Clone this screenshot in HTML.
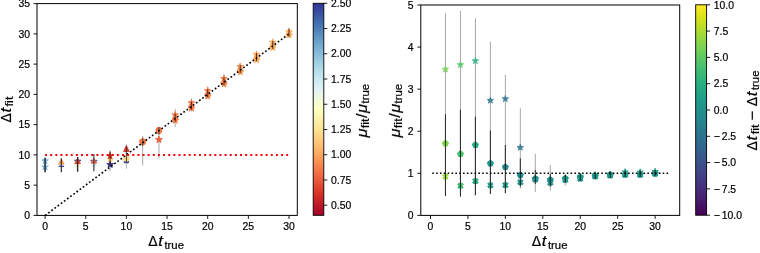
<!DOCTYPE html><html><head><meta charset="utf-8"><style>html,body{margin:0;padding:0;background:#fff;}svg{display:block;will-change:transform;}</style></head><body><svg width="760" height="253" viewBox="0 0 760 253">
<rect width="760" height="253" fill="#fff"/>
<defs>
<linearGradient id="g1" x1="0" y1="1" x2="0" y2="0">
<stop offset="0.0000" stop-color="#a50026"/>
<stop offset="0.0312" stop-color="#b50f26"/>
<stop offset="0.0625" stop-color="#c41e27"/>
<stop offset="0.0938" stop-color="#d42d27"/>
<stop offset="0.1250" stop-color="#de402e"/>
<stop offset="0.1562" stop-color="#e75337"/>
<stop offset="0.1875" stop-color="#f16640"/>
<stop offset="0.2188" stop-color="#f67a49"/>
<stop offset="0.2500" stop-color="#f98e52"/>
<stop offset="0.2812" stop-color="#fba35c"/>
<stop offset="0.3125" stop-color="#fdb567"/>
<stop offset="0.3438" stop-color="#fdc576"/>
<stop offset="0.3750" stop-color="#fed485"/>
<stop offset="0.4062" stop-color="#fee294"/>
<stop offset="0.4375" stop-color="#feeca2"/>
<stop offset="0.4688" stop-color="#fff6b1"/>
<stop offset="0.5000" stop-color="#feffc0"/>
<stop offset="0.5312" stop-color="#f5fbd2"/>
<stop offset="0.5625" stop-color="#ebf7e4"/>
<stop offset="0.5938" stop-color="#e1f3f6"/>
<stop offset="0.6250" stop-color="#d1ecf4"/>
<stop offset="0.6562" stop-color="#c1e4ef"/>
<stop offset="0.6875" stop-color="#b0dcea"/>
<stop offset="0.7188" stop-color="#9fd0e4"/>
<stop offset="0.7500" stop-color="#8ec2dc"/>
<stop offset="0.7812" stop-color="#7db4d5"/>
<stop offset="0.8125" stop-color="#6da4cc"/>
<stop offset="0.8438" stop-color="#5e93c3"/>
<stop offset="0.8750" stop-color="#4f81ba"/>
<stop offset="0.9062" stop-color="#436fb1"/>
<stop offset="0.9375" stop-color="#3d5ba7"/>
<stop offset="0.9688" stop-color="#36479e"/>
<stop offset="1.0000" stop-color="#313695"/>
</linearGradient>
<linearGradient id="g2" x1="0" y1="1" x2="0" y2="0">
<stop offset="0.0000" stop-color="#440154"/>
<stop offset="0.0312" stop-color="#470d60"/>
<stop offset="0.0625" stop-color="#48186a"/>
<stop offset="0.0938" stop-color="#482374"/>
<stop offset="0.1250" stop-color="#472d7b"/>
<stop offset="0.1562" stop-color="#453781"/>
<stop offset="0.1875" stop-color="#424086"/>
<stop offset="0.2188" stop-color="#3e4989"/>
<stop offset="0.2500" stop-color="#3b528b"/>
<stop offset="0.2812" stop-color="#375b8d"/>
<stop offset="0.3125" stop-color="#33638d"/>
<stop offset="0.3438" stop-color="#2f6b8e"/>
<stop offset="0.3750" stop-color="#2c728e"/>
<stop offset="0.4062" stop-color="#297a8e"/>
<stop offset="0.4375" stop-color="#26828e"/>
<stop offset="0.4688" stop-color="#23898e"/>
<stop offset="0.5000" stop-color="#21918c"/>
<stop offset="0.5312" stop-color="#1f988b"/>
<stop offset="0.5625" stop-color="#1fa088"/>
<stop offset="0.5938" stop-color="#22a785"/>
<stop offset="0.6250" stop-color="#28ae80"/>
<stop offset="0.6562" stop-color="#32b67a"/>
<stop offset="0.6875" stop-color="#3fbc73"/>
<stop offset="0.7188" stop-color="#4ec36b"/>
<stop offset="0.7500" stop-color="#5ec962"/>
<stop offset="0.7812" stop-color="#70cf57"/>
<stop offset="0.8125" stop-color="#84d44b"/>
<stop offset="0.8438" stop-color="#98d83e"/>
<stop offset="0.8750" stop-color="#addc30"/>
<stop offset="0.9062" stop-color="#c2df23"/>
<stop offset="0.9375" stop-color="#d8e219"/>
<stop offset="0.9688" stop-color="#ece51b"/>
<stop offset="1.0000" stop-color="#fde725"/>
</linearGradient>
</defs>
<polygon points="45.10,157.40 45.89,159.82 48.43,159.82 46.37,161.31 47.16,163.73 45.10,162.24 43.04,163.73 43.83,161.31 41.77,159.82 44.31,159.82" fill="#83b9d8" stroke="#83b9d8" stroke-width="1.0" stroke-linejoin="round"/>
<polygon points="45.10,163.50 45.89,165.92 48.43,165.92 46.37,167.41 47.16,169.83 45.10,168.34 43.04,169.83 43.83,167.41 41.77,165.92 44.31,165.92" fill="#83b9d8" stroke="#83b9d8" stroke-width="1.0" stroke-linejoin="round"/>
<line x1="45.10" y1="157.90" x2="45.10" y2="172.20" stroke="#2e3d58" stroke-width="1.7" stroke-opacity="1.0"/>
<line x1="58.66" y1="166.30" x2="64.06" y2="166.30" stroke="#3d4fa5" stroke-width="1.4"/>
<polygon points="61.36,158.80 58.56,164.10 64.16,164.10" fill="#fb9d59" stroke="#fb9d59" stroke-width="1.0" stroke-linejoin="round"/>
<line x1="61.36" y1="158.40" x2="61.36" y2="172.20" stroke="#3a3a3a" stroke-width="1.3" stroke-opacity="1.0"/>
<circle cx="77.62" cy="164.60" r="2.10" fill="#fdf5c8" stroke="#fdf5c8" stroke-width="1.0" stroke-linejoin="round"/>
<line x1="74.22" y1="160.40" x2="81.02" y2="160.40" stroke="#3d4fa5" stroke-width="1.4"/>
<polygon points="77.62,158.20 74.82,163.50 80.42,163.50" fill="#e34933" stroke="#e34933" stroke-width="1.0" stroke-linejoin="round"/>
<line x1="77.62" y1="157.00" x2="77.62" y2="171.70" stroke="#2a2a2a" stroke-width="1.4" stroke-opacity="1.0"/>
<circle cx="93.88" cy="164.60" r="2.10" fill="#dff0f5" stroke="#dff0f5" stroke-width="1.0" stroke-linejoin="round"/>
<line x1="90.48" y1="160.50" x2="97.28" y2="160.50" stroke="#3d4fa5" stroke-width="1.4"/>
<polygon points="93.88,158.20 91.08,163.10 96.68,163.10" fill="#eb5a3a" stroke="#eb5a3a" stroke-width="1.0" stroke-linejoin="round"/>
<line x1="93.88" y1="154.00" x2="93.88" y2="171.20" stroke="#4a4a4a" stroke-width="1.3" stroke-opacity="1.0"/>
<line x1="110.14" y1="150.30" x2="110.14" y2="171.10" stroke="#b0b0b0" stroke-width="1.1" stroke-opacity="1.0"/>
<circle cx="110.14" cy="159.60" r="2.50" fill="#fee398" stroke="#fee398" stroke-width="1.0" stroke-linejoin="round"/>
<polygon points="110.14,152.70 110.88,154.98 113.28,154.98 111.34,156.39 112.08,158.67 110.14,157.26 108.20,158.67 108.94,156.39 107.00,154.98 109.40,154.98" fill="#d83128" stroke="#d83128" stroke-width="1.0" stroke-linejoin="round"/>
<polygon points="110.14,161.10 110.93,163.52 113.47,163.52 111.41,165.01 112.20,167.43 110.14,165.94 108.08,167.43 108.87,165.01 106.81,163.52 109.35,163.52" fill="#313695" stroke="#313695" stroke-width="1.0" stroke-linejoin="round"/>
<line x1="110.14" y1="151.50" x2="110.14" y2="166.00" stroke="#5a2a1a" stroke-width="1.1" stroke-opacity="1.0"/>
<line x1="126.40" y1="144.20" x2="126.40" y2="168.70" stroke="#b8b8b8" stroke-width="1.1" stroke-opacity="1.0"/>
<polygon points="125.10,158.00 126.40,159.30 127.70,158.00 129.00,159.30 127.70,160.60 129.00,161.90 127.70,163.20 126.40,161.90 125.10,163.20 123.80,161.90 125.10,160.60 123.80,159.30" fill="#3a4aa0" stroke="#3a4aa0" stroke-width="1.0" stroke-linejoin="round"/>
<circle cx="126.40" cy="158.40" r="2.90" fill="#feda8a" stroke="#feda8a" stroke-width="1.0" stroke-linejoin="round"/>
<polygon points="126.40,145.60 123.60,151.50 129.20,151.50" fill="#dd3d2d" stroke="#dd3d2d" stroke-width="1.0" stroke-linejoin="round"/>
<line x1="126.40" y1="146.50" x2="126.40" y2="163.00" stroke="#333" stroke-width="0.9" stroke-opacity="1.0"/>
<line x1="142.66" y1="135.90" x2="142.66" y2="165.40" stroke="#b0b0b0" stroke-width="1.1" stroke-opacity="1.0"/>
<polygon points="142.66,137.70 143.40,139.98 145.80,139.98 143.86,141.39 144.60,143.67 142.66,142.26 140.72,143.67 141.46,141.39 139.52,139.98 141.92,139.98" fill="#e34933" stroke="#e34933" stroke-width="1.0" stroke-linejoin="round"/>
<circle cx="142.66" cy="142.00" r="3.00" fill="#f67a49" stroke="#f67a49" stroke-width="1.0" stroke-linejoin="round"/>
<line x1="142.66" y1="138.50" x2="142.66" y2="146.00" stroke="#333" stroke-width="0.9" stroke-opacity="1.0"/>
<line x1="158.92" y1="126.90" x2="158.92" y2="158.50" stroke="#b0b0b0" stroke-width="1.1" stroke-opacity="1.0"/>
<polygon points="158.92,136.20 159.71,138.62 162.25,138.62 160.19,140.11 160.98,142.53 158.92,141.04 156.86,142.53 157.65,140.11 155.59,138.62 158.13,138.62" fill="#ee613e" stroke="#ee613e" stroke-width="1.0" stroke-linejoin="round"/>
<circle cx="158.92" cy="130.20" r="2.90" fill="#f16640" stroke="#f16640" stroke-width="1.0" stroke-linejoin="round"/>
<circle cx="158.92" cy="130.90" r="2.70" fill="#f67a49" stroke="#f67a49" stroke-width="1.0" stroke-linejoin="round"/>
<line x1="158.92" y1="127.50" x2="158.92" y2="134.50" stroke="#333" stroke-width="0.9" stroke-opacity="1.0"/>
<line x1="175.18" y1="109.08" x2="175.18" y2="127.08" stroke="#b0b0b0" stroke-width="1.1" stroke-opacity="1.0"/>
<polygon points="175.18,116.88 175.97,119.30 178.51,119.30 176.45,120.80 177.24,123.22 175.18,121.72 173.12,123.22 173.91,120.80 171.85,119.30 174.39,119.30" fill="#f67a49" stroke="#f67a49" stroke-width="1.0" stroke-linejoin="round"/>
<circle cx="175.18" cy="119.18" r="2.70" fill="#f7814c" stroke="#f7814c" stroke-width="1.0" stroke-linejoin="round"/>
<polygon points="175.18,111.48 175.97,113.90 178.51,113.90 176.45,115.40 177.24,117.82 175.18,116.32 173.12,117.82 173.91,115.40 171.85,113.90 174.39,113.90" fill="#f67a49" stroke="#f67a49" stroke-width="1.0" stroke-linejoin="round"/>
<line x1="175.18" y1="113.58" x2="175.18" y2="121.58" stroke="#4a1a0a" stroke-width="0.9" stroke-opacity="1.0"/>
<line x1="191.44" y1="98.48" x2="191.44" y2="111.48" stroke="#b0b0b0" stroke-width="1.1" stroke-opacity="1.0"/>
<polygon points="191.44,104.78 192.23,107.20 194.77,107.20 192.71,108.70 193.50,111.11 191.44,109.62 189.38,111.11 190.17,108.70 188.11,107.20 190.65,107.20" fill="#f67a49" stroke="#f67a49" stroke-width="1.0" stroke-linejoin="round"/>
<circle cx="191.44" cy="107.08" r="2.70" fill="#f7814c" stroke="#f7814c" stroke-width="1.0" stroke-linejoin="round"/>
<polygon points="191.44,99.38 192.23,101.80 194.77,101.80 192.71,103.30 193.50,105.71 191.44,104.22 189.38,105.71 190.17,103.30 188.11,101.80 190.65,101.80" fill="#f67a49" stroke="#f67a49" stroke-width="1.0" stroke-linejoin="round"/>
<line x1="191.44" y1="101.48" x2="191.44" y2="109.48" stroke="#4a1a0a" stroke-width="0.9" stroke-opacity="1.0"/>
<line x1="207.70" y1="86.38" x2="207.70" y2="98.38" stroke="#b0b0b0" stroke-width="1.1" stroke-opacity="1.0"/>
<polygon points="207.70,92.68 208.49,95.10 211.03,95.10 208.97,96.59 209.76,99.01 207.70,97.52 205.64,99.01 206.43,96.59 204.37,95.10 206.91,95.10" fill="#f67f4b" stroke="#f67f4b" stroke-width="1.0" stroke-linejoin="round"/>
<circle cx="207.70" cy="94.98" r="2.70" fill="#f88950" stroke="#f88950" stroke-width="1.0" stroke-linejoin="round"/>
<polygon points="207.70,87.28 208.49,89.70 211.03,89.70 208.97,91.19 209.76,93.61 207.70,92.12 205.64,93.61 206.43,91.19 204.37,89.70 206.91,89.70" fill="#f67f4b" stroke="#f67f4b" stroke-width="1.0" stroke-linejoin="round"/>
<line x1="207.70" y1="89.38" x2="207.70" y2="97.38" stroke="#4a1a0a" stroke-width="0.9" stroke-opacity="1.0"/>
<line x1="223.96" y1="74.28" x2="223.96" y2="86.28" stroke="#b0b0b0" stroke-width="1.1" stroke-opacity="1.0"/>
<polygon points="223.96,80.58 224.75,83.00 227.29,83.00 225.23,84.49 226.02,86.91 223.96,85.41 221.90,86.91 222.69,84.49 220.63,83.00 223.17,83.00" fill="#f7844e" stroke="#f7844e" stroke-width="1.0" stroke-linejoin="round"/>
<circle cx="223.96" cy="82.88" r="2.70" fill="#f98e52" stroke="#f98e52" stroke-width="1.0" stroke-linejoin="round"/>
<polygon points="223.96,75.18 224.75,77.60 227.29,77.60 225.23,79.09 226.02,81.51 223.96,80.01 221.90,81.51 222.69,79.09 220.63,77.60 223.17,77.60" fill="#f7844e" stroke="#f7844e" stroke-width="1.0" stroke-linejoin="round"/>
<line x1="223.96" y1="77.28" x2="223.96" y2="85.28" stroke="#4a1a0a" stroke-width="0.9" stroke-opacity="1.0"/>
<line x1="240.22" y1="63.18" x2="240.22" y2="74.18" stroke="#b0b0b0" stroke-width="1.1" stroke-opacity="1.0"/>
<polygon points="240.22,68.48 241.01,70.89 243.55,70.89 241.49,72.39 242.28,74.81 240.22,73.31 238.16,74.81 238.95,72.39 236.89,70.89 239.43,70.89" fill="#fa9656" stroke="#fa9656" stroke-width="1.0" stroke-linejoin="round"/>
<circle cx="240.22" cy="70.78" r="2.70" fill="#fb9d59" stroke="#fb9d59" stroke-width="1.0" stroke-linejoin="round"/>
<polygon points="240.22,63.08 241.01,65.49 243.55,65.49 241.49,66.99 242.28,69.41 240.22,67.91 238.16,69.41 238.95,66.99 236.89,65.49 239.43,65.49" fill="#fa9656" stroke="#fa9656" stroke-width="1.0" stroke-linejoin="round"/>
<line x1="240.22" y1="65.18" x2="240.22" y2="73.18" stroke="#4a1a0a" stroke-width="0.9" stroke-opacity="1.0"/>
<line x1="256.48" y1="51.07" x2="256.48" y2="62.07" stroke="#b0b0b0" stroke-width="1.1" stroke-opacity="1.0"/>
<polygon points="256.48,56.37 257.27,58.79 259.81,58.79 257.75,60.29 258.54,62.71 256.48,61.21 254.42,62.71 255.21,60.29 253.15,58.79 255.69,58.79" fill="#fca55d" stroke="#fca55d" stroke-width="1.0" stroke-linejoin="round"/>
<circle cx="256.48" cy="58.67" r="2.70" fill="#fdad60" stroke="#fdad60" stroke-width="1.0" stroke-linejoin="round"/>
<polygon points="256.48,50.97 257.27,53.39 259.81,53.39 257.75,54.89 258.54,57.31 256.48,55.81 254.42,57.31 255.21,54.89 253.15,53.39 255.69,53.39" fill="#fca55d" stroke="#fca55d" stroke-width="1.0" stroke-linejoin="round"/>
<line x1="256.48" y1="53.07" x2="256.48" y2="61.07" stroke="#4a1a0a" stroke-width="0.9" stroke-opacity="1.0"/>
<line x1="272.74" y1="38.97" x2="272.74" y2="49.97" stroke="#b0b0b0" stroke-width="1.1" stroke-opacity="1.0"/>
<polygon points="272.74,44.27 273.53,46.69 276.07,46.69 274.01,48.19 274.80,50.60 272.74,49.11 270.68,50.60 271.47,48.19 269.41,46.69 271.95,46.69" fill="#fcaa5f" stroke="#fcaa5f" stroke-width="1.0" stroke-linejoin="round"/>
<circle cx="272.74" cy="46.57" r="2.70" fill="#fdb366" stroke="#fdb366" stroke-width="1.0" stroke-linejoin="round"/>
<polygon points="272.74,38.87 273.53,41.29 276.07,41.29 274.01,42.79 274.80,45.20 272.74,43.71 270.68,45.20 271.47,42.79 269.41,41.29 271.95,41.29" fill="#fcaa5f" stroke="#fcaa5f" stroke-width="1.0" stroke-linejoin="round"/>
<line x1="272.74" y1="40.97" x2="272.74" y2="48.97" stroke="#4a1a0a" stroke-width="0.9" stroke-opacity="1.0"/>
<line x1="289.00" y1="27.87" x2="289.00" y2="36.87" stroke="#b0b0b0" stroke-width="1.1" stroke-opacity="1.0"/>
<polygon points="289.00,31.57 289.79,33.99 292.33,33.99 290.27,35.48 291.06,37.90 289.00,36.41 286.94,37.90 287.73,35.48 285.67,33.99 288.21,33.99" fill="#fdb366" stroke="#fdb366" stroke-width="1.0" stroke-linejoin="round"/>
<circle cx="289.00" cy="34.47" r="2.70" fill="#fdb96b" stroke="#fdb96b" stroke-width="1.0" stroke-linejoin="round"/>
<polygon points="289.00,28.37 289.79,30.79 292.33,30.79 290.27,32.28 291.06,34.70 289.00,33.21 286.94,34.70 287.73,32.28 285.67,30.79 288.21,30.79" fill="#fdb366" stroke="#fdb366" stroke-width="1.0" stroke-linejoin="round"/>
<line x1="289.00" y1="28.87" x2="289.00" y2="36.87" stroke="#4a1a0a" stroke-width="0.9" stroke-opacity="1.0"/>
<line x1="45.10" y1="215.40" x2="289.00" y2="33.87" stroke="#000" stroke-width="1.65" stroke-dasharray="1.7 2.22"/>
<line x1="45.10" y1="154.89" x2="289.00" y2="154.89" stroke="#ff0000" stroke-width="2" stroke-dasharray="1.94 3.19"/>
<g stroke="#000" stroke-width="1" fill="none">
<rect x="37.0" y="3.6" width="260.3" height="211.8"/>
</g>
<line x1="45.10" y1="215.4" x2="45.10" y2="218.9" stroke="#000" stroke-width="0.9"/>
<text x="45.10" y="229.90" font-size="10.4" text-anchor="middle" font-family="Liberation Sans, sans-serif" stroke="#000" stroke-width="0.2" >0</text>
<line x1="85.75" y1="215.4" x2="85.75" y2="218.9" stroke="#000" stroke-width="0.9"/>
<text x="85.75" y="229.90" font-size="10.4" text-anchor="middle" font-family="Liberation Sans, sans-serif" stroke="#000" stroke-width="0.2" >5</text>
<line x1="126.40" y1="215.4" x2="126.40" y2="218.9" stroke="#000" stroke-width="0.9"/>
<text x="126.40" y="229.90" font-size="10.4" text-anchor="middle" font-family="Liberation Sans, sans-serif" stroke="#000" stroke-width="0.2" >10</text>
<line x1="167.05" y1="215.4" x2="167.05" y2="218.9" stroke="#000" stroke-width="0.9"/>
<text x="167.05" y="229.90" font-size="10.4" text-anchor="middle" font-family="Liberation Sans, sans-serif" stroke="#000" stroke-width="0.2" >15</text>
<line x1="207.70" y1="215.4" x2="207.70" y2="218.9" stroke="#000" stroke-width="0.9"/>
<text x="207.70" y="229.90" font-size="10.4" text-anchor="middle" font-family="Liberation Sans, sans-serif" stroke="#000" stroke-width="0.2" >20</text>
<line x1="248.35" y1="215.4" x2="248.35" y2="218.9" stroke="#000" stroke-width="0.9"/>
<text x="248.35" y="229.90" font-size="10.4" text-anchor="middle" font-family="Liberation Sans, sans-serif" stroke="#000" stroke-width="0.2" >25</text>
<line x1="289.00" y1="215.4" x2="289.00" y2="218.9" stroke="#000" stroke-width="0.9"/>
<text x="289.00" y="229.90" font-size="10.4" text-anchor="middle" font-family="Liberation Sans, sans-serif" stroke="#000" stroke-width="0.2" >30</text>
<line x1="33.5" y1="215.40" x2="37.0" y2="215.40" stroke="#000" stroke-width="0.9"/>
<text x="30.00" y="219.10" font-size="10.4" text-anchor="end" font-family="Liberation Sans, sans-serif" stroke="#000" stroke-width="0.2" >0</text>
<line x1="33.5" y1="185.15" x2="37.0" y2="185.15" stroke="#000" stroke-width="0.9"/>
<text x="30.00" y="188.84" font-size="10.4" text-anchor="end" font-family="Liberation Sans, sans-serif" stroke="#000" stroke-width="0.2" >5</text>
<line x1="33.5" y1="154.89" x2="37.0" y2="154.89" stroke="#000" stroke-width="0.9"/>
<text x="30.00" y="158.59" font-size="10.4" text-anchor="end" font-family="Liberation Sans, sans-serif" stroke="#000" stroke-width="0.2" >10</text>
<line x1="33.5" y1="124.64" x2="37.0" y2="124.64" stroke="#000" stroke-width="0.9"/>
<text x="30.00" y="128.34" font-size="10.4" text-anchor="end" font-family="Liberation Sans, sans-serif" stroke="#000" stroke-width="0.2" >15</text>
<line x1="33.5" y1="94.38" x2="37.0" y2="94.38" stroke="#000" stroke-width="0.9"/>
<text x="30.00" y="98.08" font-size="10.4" text-anchor="end" font-family="Liberation Sans, sans-serif" stroke="#000" stroke-width="0.2" >20</text>
<line x1="33.5" y1="64.12" x2="37.0" y2="64.12" stroke="#000" stroke-width="0.9"/>
<text x="30.00" y="67.83" font-size="10.4" text-anchor="end" font-family="Liberation Sans, sans-serif" stroke="#000" stroke-width="0.2" >25</text>
<line x1="33.5" y1="33.87" x2="37.0" y2="33.87" stroke="#000" stroke-width="0.9"/>
<text x="30.00" y="37.57" font-size="10.4" text-anchor="end" font-family="Liberation Sans, sans-serif" stroke="#000" stroke-width="0.2" >30</text>
<line x1="33.5" y1="3.62" x2="37.0" y2="3.62" stroke="#000" stroke-width="0.9"/>
<text x="30.00" y="7.32" font-size="10.4" text-anchor="end" font-family="Liberation Sans, sans-serif" stroke="#000" stroke-width="0.2" >35</text>
<rect x="313.2" y="3.3" width="10.6" height="212.0" fill="url(#g1)" stroke="#000" stroke-width="0.9"/>
<line x1="323.8" y1="205.20" x2="327.3" y2="205.20" stroke="#000" stroke-width="0.9"/>
<text x="331.00" y="208.90" font-size="10.4" text-anchor="start" font-family="Liberation Sans, sans-serif" stroke="#000" stroke-width="0.2" >0.50</text>
<line x1="323.8" y1="179.97" x2="327.3" y2="179.97" stroke="#000" stroke-width="0.9"/>
<text x="331.00" y="183.67" font-size="10.4" text-anchor="start" font-family="Liberation Sans, sans-serif" stroke="#000" stroke-width="0.2" >0.75</text>
<line x1="323.8" y1="154.73" x2="327.3" y2="154.73" stroke="#000" stroke-width="0.9"/>
<text x="331.00" y="158.43" font-size="10.4" text-anchor="start" font-family="Liberation Sans, sans-serif" stroke="#000" stroke-width="0.2" >1.00</text>
<line x1="323.8" y1="129.49" x2="327.3" y2="129.49" stroke="#000" stroke-width="0.9"/>
<text x="331.00" y="133.19" font-size="10.4" text-anchor="start" font-family="Liberation Sans, sans-serif" stroke="#000" stroke-width="0.2" >1.25</text>
<line x1="323.8" y1="104.25" x2="327.3" y2="104.25" stroke="#000" stroke-width="0.9"/>
<text x="331.00" y="107.95" font-size="10.4" text-anchor="start" font-family="Liberation Sans, sans-serif" stroke="#000" stroke-width="0.2" >1.50</text>
<line x1="323.8" y1="79.01" x2="327.3" y2="79.01" stroke="#000" stroke-width="0.9"/>
<text x="331.00" y="82.71" font-size="10.4" text-anchor="start" font-family="Liberation Sans, sans-serif" stroke="#000" stroke-width="0.2" >1.75</text>
<line x1="323.8" y1="53.78" x2="327.3" y2="53.78" stroke="#000" stroke-width="0.9"/>
<text x="331.00" y="57.48" font-size="10.4" text-anchor="start" font-family="Liberation Sans, sans-serif" stroke="#000" stroke-width="0.2" >2.00</text>
<line x1="323.8" y1="28.54" x2="327.3" y2="28.54" stroke="#000" stroke-width="0.9"/>
<text x="331.00" y="32.24" font-size="10.4" text-anchor="start" font-family="Liberation Sans, sans-serif" stroke="#000" stroke-width="0.2" >2.25</text>
<line x1="323.8" y1="3.30" x2="327.3" y2="3.30" stroke="#000" stroke-width="0.9"/>
<text x="331.00" y="7.00" font-size="10.4" text-anchor="start" font-family="Liberation Sans, sans-serif" stroke="#000" stroke-width="0.2" >2.50</text>
<line x1="445.47" y1="13.30" x2="445.47" y2="196.00" stroke="#a8a8a8" stroke-width="1.0" stroke-opacity="1.0"/>
<polygon points="445.47,66.00 446.21,68.28 448.61,68.28 446.67,69.69 447.41,71.97 445.47,70.56 443.53,71.97 444.28,69.69 442.34,68.28 444.73,68.28" fill="#75d054" stroke="#75d054" stroke-width="1.0" stroke-linejoin="round" opacity="0.88"/>
<polygon points="445.47,140.20 448.52,142.41 447.35,145.99 443.59,145.99 442.43,142.41" fill="#81d34d" stroke="#81d34d" stroke-width="1.0" stroke-linejoin="round"/>
<polygon points="444.07,173.80 445.47,175.20 446.87,173.80 448.27,175.20 446.87,176.60 448.27,178.00 446.87,179.40 445.47,178.00 444.07,179.40 442.67,178.00 444.07,176.60 442.67,175.20" fill="#a2da37" stroke="#a2da37" stroke-width="1.0" stroke-linejoin="round"/>
<line x1="445.47" y1="114.30" x2="445.47" y2="196.00" stroke="#000" stroke-width="1.1" stroke-opacity="0.72"/>
<line x1="460.45" y1="10.90" x2="460.45" y2="196.60" stroke="#a8a8a8" stroke-width="1.0" stroke-opacity="1.0"/>
<polygon points="460.45,61.50 461.19,63.78 463.59,63.78 461.65,65.19 462.39,67.47 460.45,66.06 458.51,67.47 459.25,65.19 457.31,63.78 459.71,63.78" fill="#58c765" stroke="#58c765" stroke-width="1.0" stroke-linejoin="round" opacity="0.88"/>
<polygon points="460.45,150.70 463.49,152.91 462.33,156.49 458.57,156.49 457.40,152.91" fill="#48c16e" stroke="#48c16e" stroke-width="1.0" stroke-linejoin="round"/>
<polygon points="459.05,183.00 460.45,184.40 461.85,183.00 463.25,184.40 461.85,185.80 463.25,187.20 461.85,188.60 460.45,187.20 459.05,188.60 457.65,187.20 459.05,185.80 457.65,184.40" fill="#3fbc73" stroke="#3fbc73" stroke-width="1.0" stroke-linejoin="round"/>
<line x1="460.45" y1="109.80" x2="460.45" y2="196.60" stroke="#000" stroke-width="1.1" stroke-opacity="0.72"/>
<line x1="475.42" y1="18.40" x2="475.42" y2="195.30" stroke="#a8a8a8" stroke-width="1.0" stroke-opacity="1.0"/>
<polygon points="475.42,57.60 476.16,59.88 478.56,59.88 476.62,61.29 477.36,63.57 475.42,62.16 473.48,63.57 474.22,61.29 472.28,59.88 474.68,59.88" fill="#2cb17e" stroke="#2cb17e" stroke-width="1.0" stroke-linejoin="round" opacity="0.88"/>
<polygon points="475.42,141.70 478.47,143.91 477.30,147.49 473.54,147.49 472.38,143.91" fill="#25ab82" stroke="#25ab82" stroke-width="1.0" stroke-linejoin="round"/>
<polygon points="474.02,178.40 475.42,179.80 476.82,178.40 478.22,179.80 476.82,181.20 478.22,182.60 476.82,184.00 475.42,182.60 474.02,184.00 472.62,182.60 474.02,181.20 472.62,179.80" fill="#26ad81" stroke="#26ad81" stroke-width="1.0" stroke-linejoin="round"/>
<line x1="475.42" y1="116.70" x2="475.42" y2="195.30" stroke="#000" stroke-width="1.1" stroke-opacity="0.72"/>
<line x1="490.40" y1="41.50" x2="490.40" y2="194.10" stroke="#a8a8a8" stroke-width="1.0" stroke-opacity="1.0"/>
<polygon points="490.40,97.20 491.14,99.48 493.53,99.48 491.59,100.89 492.34,103.17 490.40,101.76 488.46,103.17 489.20,100.89 487.26,99.48 489.66,99.48" fill="#2a788e" stroke="#2a788e" stroke-width="1.0" stroke-linejoin="round" opacity="0.88"/>
<polygon points="490.40,160.20 493.44,162.41 492.28,165.99 488.52,165.99 487.35,162.41" fill="#1f978b" stroke="#1f978b" stroke-width="1.0" stroke-linejoin="round"/>
<polygon points="489.00,182.60 490.40,184.00 491.80,182.60 493.20,184.00 491.80,185.40 493.20,186.80 491.80,188.20 490.40,186.80 489.00,188.20 487.60,186.80 489.00,185.40 487.60,184.00" fill="#1f9f88" stroke="#1f9f88" stroke-width="1.0" stroke-linejoin="round"/>
<line x1="490.40" y1="130.60" x2="490.40" y2="194.10" stroke="#000" stroke-width="1.1" stroke-opacity="0.72"/>
<line x1="505.37" y1="74.80" x2="505.37" y2="193.30" stroke="#a8a8a8" stroke-width="1.0" stroke-opacity="1.0"/>
<polygon points="505.37,95.60 506.11,97.88 508.51,97.88 506.57,99.29 507.31,101.57 505.37,100.16 503.43,101.57 504.17,99.29 502.23,97.88 504.63,97.88" fill="#2b758e" stroke="#2b758e" stroke-width="1.0" stroke-linejoin="round" opacity="0.88"/>
<polygon points="505.37,163.80 508.41,166.01 507.25,169.59 503.49,169.59 502.33,166.01" fill="#23898e" stroke="#23898e" stroke-width="1.0" stroke-linejoin="round"/>
<polygon points="503.97,182.40 505.37,183.80 506.77,182.40 508.17,183.80 506.77,185.20 508.17,186.60 506.77,188.00 505.37,186.60 503.97,188.00 502.57,186.60 503.97,185.20 502.57,183.80" fill="#1e9c89" stroke="#1e9c89" stroke-width="1.0" stroke-linejoin="round"/>
<line x1="505.37" y1="145.00" x2="505.37" y2="193.30" stroke="#000" stroke-width="1.1" stroke-opacity="0.72"/>
<line x1="520.34" y1="108.30" x2="520.34" y2="188.70" stroke="#a8a8a8" stroke-width="1.0" stroke-opacity="1.0"/>
<polygon points="520.34,144.20 521.08,146.48 523.48,146.48 521.54,147.89 522.28,150.17 520.34,148.76 518.40,150.17 519.15,147.89 517.21,146.48 519.60,146.48" fill="#2c728e" stroke="#2c728e" stroke-width="1.0" stroke-linejoin="round" opacity="0.88"/>
<polygon points="518.94,179.50 520.34,180.90 521.74,179.50 523.14,180.90 521.74,182.30 523.14,183.70 521.74,185.10 520.34,183.70 518.94,185.10 517.54,183.70 518.94,182.30 517.54,180.90" fill="#20938c" stroke="#20938c" stroke-width="1.0" stroke-linejoin="round"/>
<polygon points="520.34,171.90 523.39,174.11 522.22,177.69 518.46,177.69 517.30,174.11" fill="#228d8d" stroke="#228d8d" stroke-width="1.0" stroke-linejoin="round"/>
<line x1="520.34" y1="158.50" x2="520.34" y2="186.70" stroke="#000" stroke-width="1.1" stroke-opacity="0.72"/>
<line x1="535.32" y1="153.90" x2="535.32" y2="192.20" stroke="#a8a8a8" stroke-width="1.0" stroke-opacity="1.0"/>
<polygon points="533.92,176.70 535.32,178.10 536.72,176.70 538.12,178.10 536.72,179.50 538.12,180.90 536.72,182.30 535.32,180.90 533.92,182.30 532.52,180.90 533.92,179.50 532.52,178.10" fill="#21918c" stroke="#21918c" stroke-width="1.0" stroke-linejoin="round"/>
<polygon points="535.32,175.40 538.36,177.61 537.20,181.19 533.44,181.19 532.27,177.61" fill="#218e8d" stroke="#218e8d" stroke-width="1.0" stroke-linejoin="round"/>
<line x1="535.32" y1="170.00" x2="535.32" y2="184.00" stroke="#000" stroke-width="1.1" stroke-opacity="0.72"/>
<line x1="550.29" y1="165.00" x2="550.29" y2="190.50" stroke="#a8a8a8" stroke-width="1.0" stroke-opacity="1.0"/>
<polygon points="548.89,180.00 550.29,181.40 551.69,180.00 553.09,181.40 551.69,182.80 553.09,184.20 551.69,185.60 550.29,184.20 548.89,185.60 547.49,184.20 548.89,182.80 547.49,181.40" fill="#20928c" stroke="#20928c" stroke-width="1.0" stroke-linejoin="round"/>
<polygon points="550.29,176.60 553.34,178.81 552.17,182.39 548.41,182.39 547.25,178.81" fill="#218e8d" stroke="#218e8d" stroke-width="1.0" stroke-linejoin="round"/>
<line x1="550.29" y1="174.00" x2="550.29" y2="186.50" stroke="#000" stroke-width="1.1" stroke-opacity="0.72"/>
<line x1="565.27" y1="174.00" x2="565.27" y2="185.60" stroke="#a8a8a8" stroke-width="1.0" stroke-opacity="1.0"/>
<polygon points="563.87,177.20 565.27,178.60 566.67,177.20 568.07,178.60 566.67,180.00 568.07,181.40 566.67,182.80 565.27,181.40 563.87,182.80 562.47,181.40 563.87,180.00 562.47,178.60" fill="#1f9a8a" stroke="#1f9a8a" stroke-width="1.0" stroke-linejoin="round"/>
<polygon points="565.27,175.20 568.31,177.41 567.15,180.99 563.39,180.99 562.22,177.41" fill="#1f978b" stroke="#1f978b" stroke-width="1.0" stroke-linejoin="round"/>
<line x1="565.27" y1="175.00" x2="565.27" y2="183.00" stroke="#000" stroke-width="1.1" stroke-opacity="0.72"/>
<line x1="580.24" y1="173.00" x2="580.24" y2="182.00" stroke="#a8a8a8" stroke-width="1.0" stroke-opacity="1.0"/>
<polygon points="578.84,176.00 580.24,177.40 581.64,176.00 583.04,177.40 581.64,178.80 583.04,180.20 581.64,181.60 580.24,180.20 578.84,181.60 577.44,180.20 578.84,178.80 577.44,177.40" fill="#1f9a8a" stroke="#1f9a8a" stroke-width="1.0" stroke-linejoin="round"/>
<polygon points="580.24,174.00 583.28,176.21 582.12,179.79 578.36,179.79 577.20,176.21" fill="#1f978b" stroke="#1f978b" stroke-width="1.0" stroke-linejoin="round"/>
<polygon points="580.24,173.00 580.98,175.28 583.38,175.28 581.44,176.69 582.18,178.97 580.24,177.56 578.30,178.97 579.04,176.69 577.10,175.28 579.50,175.28" fill="#1f9a8a" stroke="#1f9a8a" stroke-width="1.0" stroke-linejoin="round" opacity="0.88"/>
<line x1="580.24" y1="174.00" x2="580.24" y2="181.00" stroke="#000" stroke-width="1.1" stroke-opacity="0.72"/>
<line x1="595.21" y1="172.00" x2="595.21" y2="179.50" stroke="#a8a8a8" stroke-width="1.0" stroke-opacity="1.0"/>
<polygon points="593.81,173.70 595.21,175.10 596.61,173.70 598.01,175.10 596.61,176.50 598.01,177.90 596.61,179.30 595.21,177.90 593.81,179.30 592.41,177.90 593.81,176.50 592.41,175.10" fill="#1f9a8a" stroke="#1f9a8a" stroke-width="1.0" stroke-linejoin="round"/>
<polygon points="595.21,172.80 598.26,175.01 597.09,178.59 593.33,178.59 592.17,175.01" fill="#1f978b" stroke="#1f978b" stroke-width="1.0" stroke-linejoin="round"/>
<polygon points="595.21,171.50 595.95,173.78 598.35,173.78 596.41,175.19 597.15,177.47 595.21,176.06 593.27,177.47 594.02,175.19 592.08,173.78 594.47,173.78" fill="#1f9a8a" stroke="#1f9a8a" stroke-width="1.0" stroke-linejoin="round" opacity="0.88"/>
<line x1="595.21" y1="172.50" x2="595.21" y2="179.00" stroke="#000" stroke-width="1.1" stroke-opacity="0.72"/>
<line x1="610.19" y1="171.00" x2="610.19" y2="178.50" stroke="#a8a8a8" stroke-width="1.0" stroke-opacity="1.0"/>
<polygon points="608.79,172.70 610.19,174.10 611.59,172.70 612.99,174.10 611.59,175.50 612.99,176.90 611.59,178.30 610.19,176.90 608.79,178.30 607.39,176.90 608.79,175.50 607.39,174.10" fill="#1f9a8a" stroke="#1f9a8a" stroke-width="1.0" stroke-linejoin="round"/>
<polygon points="610.19,171.80 613.23,174.01 612.07,177.59 608.31,177.59 607.14,174.01" fill="#1f978b" stroke="#1f978b" stroke-width="1.0" stroke-linejoin="round"/>
<polygon points="610.19,170.90 610.93,173.18 613.33,173.18 611.39,174.59 612.13,176.87 610.19,175.46 608.25,176.87 608.99,174.59 607.05,173.18 609.45,173.18" fill="#1f9a8a" stroke="#1f9a8a" stroke-width="1.0" stroke-linejoin="round" opacity="0.88"/>
<line x1="610.19" y1="171.50" x2="610.19" y2="178.00" stroke="#000" stroke-width="1.1" stroke-opacity="0.72"/>
<line x1="625.16" y1="170.00" x2="625.16" y2="177.50" stroke="#a8a8a8" stroke-width="1.0" stroke-opacity="1.0"/>
<polygon points="623.76,172.20 625.16,173.60 626.56,172.20 627.96,173.60 626.56,175.00 627.96,176.40 626.56,177.80 625.16,176.40 623.76,177.80 622.36,176.40 623.76,175.00 622.36,173.60" fill="#1f9a8a" stroke="#1f9a8a" stroke-width="1.0" stroke-linejoin="round"/>
<polygon points="625.16,171.20 628.21,173.41 627.04,176.99 623.28,176.99 622.12,173.41" fill="#1f978b" stroke="#1f978b" stroke-width="1.0" stroke-linejoin="round"/>
<polygon points="625.16,168.60 625.90,170.88 628.30,170.88 626.36,172.29 627.10,174.57 625.16,173.16 623.22,174.57 623.96,172.29 622.02,170.88 624.42,170.88" fill="#1f9a8a" stroke="#1f9a8a" stroke-width="1.0" stroke-linejoin="round" opacity="0.88"/>
<line x1="625.16" y1="170.50" x2="625.16" y2="177.00" stroke="#000" stroke-width="1.1" stroke-opacity="0.72"/>
<line x1="640.14" y1="170.00" x2="640.14" y2="177.50" stroke="#a8a8a8" stroke-width="1.0" stroke-opacity="1.0"/>
<polygon points="638.74,172.20 640.14,173.60 641.54,172.20 642.94,173.60 641.54,175.00 642.94,176.40 641.54,177.80 640.14,176.40 638.74,177.80 637.34,176.40 638.74,175.00 637.34,173.60" fill="#1f9a8a" stroke="#1f9a8a" stroke-width="1.0" stroke-linejoin="round"/>
<polygon points="640.14,171.20 643.18,173.41 642.02,176.99 638.26,176.99 637.09,173.41" fill="#1f978b" stroke="#1f978b" stroke-width="1.0" stroke-linejoin="round"/>
<polygon points="640.14,168.80 640.88,171.08 643.27,171.08 641.33,172.49 642.08,174.77 640.14,173.36 638.20,174.77 638.94,172.49 637.00,171.08 639.40,171.08" fill="#1f9a8a" stroke="#1f9a8a" stroke-width="1.0" stroke-linejoin="round" opacity="0.88"/>
<line x1="640.14" y1="170.50" x2="640.14" y2="177.00" stroke="#000" stroke-width="1.1" stroke-opacity="0.72"/>
<line x1="655.11" y1="169.50" x2="655.11" y2="176.50" stroke="#a8a8a8" stroke-width="1.0" stroke-opacity="1.0"/>
<polygon points="653.71,170.70 655.11,172.10 656.51,170.70 657.91,172.10 656.51,173.50 657.91,174.90 656.51,176.30 655.11,174.90 653.71,176.30 652.31,174.90 653.71,173.50 652.31,172.10" fill="#1f9a8a" stroke="#1f9a8a" stroke-width="1.0" stroke-linejoin="round"/>
<polygon points="655.11,170.40 658.15,172.61 656.99,176.19 653.23,176.19 652.07,172.61" fill="#1f978b" stroke="#1f978b" stroke-width="1.0" stroke-linejoin="round"/>
<polygon points="655.11,168.20 655.85,170.48 658.25,170.48 656.31,171.89 657.05,174.17 655.11,172.76 653.17,174.17 653.91,171.89 651.97,170.48 654.37,170.48" fill="#1f9a8a" stroke="#1f9a8a" stroke-width="1.0" stroke-linejoin="round" opacity="0.88"/>
<line x1="655.11" y1="170.00" x2="655.11" y2="176.00" stroke="#000" stroke-width="1.1" stroke-opacity="0.72"/>
<line x1="432.3" y1="173.32" x2="668.5" y2="173.32" stroke="#000" stroke-width="1.6" stroke-dasharray="1.6 2.24"/>
<g stroke="#000" stroke-width="1" fill="none">
<rect x="420.8" y="5.0" width="258.9" height="210.4"/>
</g>
<line x1="430.50" y1="215.4" x2="430.50" y2="218.9" stroke="#000" stroke-width="0.9"/>
<text x="430.50" y="229.90" font-size="10.4" text-anchor="middle" font-family="Liberation Sans, sans-serif" stroke="#000" stroke-width="0.2" >0</text>
<line x1="467.94" y1="215.4" x2="467.94" y2="218.9" stroke="#000" stroke-width="0.9"/>
<text x="467.94" y="229.90" font-size="10.4" text-anchor="middle" font-family="Liberation Sans, sans-serif" stroke="#000" stroke-width="0.2" >5</text>
<line x1="505.37" y1="215.4" x2="505.37" y2="218.9" stroke="#000" stroke-width="0.9"/>
<text x="505.37" y="229.90" font-size="10.4" text-anchor="middle" font-family="Liberation Sans, sans-serif" stroke="#000" stroke-width="0.2" >10</text>
<line x1="542.81" y1="215.4" x2="542.81" y2="218.9" stroke="#000" stroke-width="0.9"/>
<text x="542.81" y="229.90" font-size="10.4" text-anchor="middle" font-family="Liberation Sans, sans-serif" stroke="#000" stroke-width="0.2" >15</text>
<line x1="580.24" y1="215.4" x2="580.24" y2="218.9" stroke="#000" stroke-width="0.9"/>
<text x="580.24" y="229.90" font-size="10.4" text-anchor="middle" font-family="Liberation Sans, sans-serif" stroke="#000" stroke-width="0.2" >20</text>
<line x1="617.67" y1="215.4" x2="617.67" y2="218.9" stroke="#000" stroke-width="0.9"/>
<text x="617.67" y="229.90" font-size="10.4" text-anchor="middle" font-family="Liberation Sans, sans-serif" stroke="#000" stroke-width="0.2" >25</text>
<line x1="655.11" y1="215.4" x2="655.11" y2="218.9" stroke="#000" stroke-width="0.9"/>
<text x="655.11" y="229.90" font-size="10.4" text-anchor="middle" font-family="Liberation Sans, sans-serif" stroke="#000" stroke-width="0.2" >30</text>
<line x1="417.3" y1="215.40" x2="420.8" y2="215.40" stroke="#000" stroke-width="0.9"/>
<text x="413.60" y="219.10" font-size="10.4" text-anchor="end" font-family="Liberation Sans, sans-serif" stroke="#000" stroke-width="0.2" >0</text>
<line x1="417.3" y1="173.32" x2="420.8" y2="173.32" stroke="#000" stroke-width="0.9"/>
<text x="413.60" y="177.02" font-size="10.4" text-anchor="end" font-family="Liberation Sans, sans-serif" stroke="#000" stroke-width="0.2" >1</text>
<line x1="417.3" y1="131.24" x2="420.8" y2="131.24" stroke="#000" stroke-width="0.9"/>
<text x="413.60" y="134.94" font-size="10.4" text-anchor="end" font-family="Liberation Sans, sans-serif" stroke="#000" stroke-width="0.2" >2</text>
<line x1="417.3" y1="89.16" x2="420.8" y2="89.16" stroke="#000" stroke-width="0.9"/>
<text x="413.60" y="92.86" font-size="10.4" text-anchor="end" font-family="Liberation Sans, sans-serif" stroke="#000" stroke-width="0.2" >3</text>
<line x1="417.3" y1="47.08" x2="420.8" y2="47.08" stroke="#000" stroke-width="0.9"/>
<text x="413.60" y="50.78" font-size="10.4" text-anchor="end" font-family="Liberation Sans, sans-serif" stroke="#000" stroke-width="0.2" >4</text>
<line x1="417.3" y1="5.00" x2="420.8" y2="5.00" stroke="#000" stroke-width="0.9"/>
<text x="413.60" y="8.70" font-size="10.4" text-anchor="end" font-family="Liberation Sans, sans-serif" stroke="#000" stroke-width="0.2" >5</text>
<rect x="695.7" y="4.8" width="10.9" height="210.4" fill="url(#g2)" stroke="#000" stroke-width="0.9"/>
<line x1="706.6" y1="215.20" x2="710.1" y2="215.20" stroke="#000" stroke-width="0.9"/>
<text x="713.80" y="218.90" font-size="10.4" text-anchor="start" font-family="Liberation Sans, sans-serif" stroke="#000" stroke-width="0.2" >−</text>
<text x="721.70" y="218.90" font-size="10.4" text-anchor="start" font-family="Liberation Sans, sans-serif" stroke="#000" stroke-width="0.2" >10.0</text>
<line x1="706.6" y1="188.90" x2="710.1" y2="188.90" stroke="#000" stroke-width="0.9"/>
<text x="713.80" y="192.60" font-size="10.4" text-anchor="start" font-family="Liberation Sans, sans-serif" stroke="#000" stroke-width="0.2" >−</text>
<text x="721.70" y="192.60" font-size="10.4" text-anchor="start" font-family="Liberation Sans, sans-serif" stroke="#000" stroke-width="0.2" >7.5</text>
<line x1="706.6" y1="162.60" x2="710.1" y2="162.60" stroke="#000" stroke-width="0.9"/>
<text x="713.80" y="166.30" font-size="10.4" text-anchor="start" font-family="Liberation Sans, sans-serif" stroke="#000" stroke-width="0.2" >−</text>
<text x="721.70" y="166.30" font-size="10.4" text-anchor="start" font-family="Liberation Sans, sans-serif" stroke="#000" stroke-width="0.2" >5.0</text>
<line x1="706.6" y1="136.30" x2="710.1" y2="136.30" stroke="#000" stroke-width="0.9"/>
<text x="713.80" y="140.00" font-size="10.4" text-anchor="start" font-family="Liberation Sans, sans-serif" stroke="#000" stroke-width="0.2" >−</text>
<text x="721.70" y="140.00" font-size="10.4" text-anchor="start" font-family="Liberation Sans, sans-serif" stroke="#000" stroke-width="0.2" >2.5</text>
<line x1="706.6" y1="110.00" x2="710.1" y2="110.00" stroke="#000" stroke-width="0.9"/>
<text x="713.80" y="113.70" font-size="10.4" text-anchor="start" font-family="Liberation Sans, sans-serif" stroke="#000" stroke-width="0.2" >0.0</text>
<line x1="706.6" y1="83.70" x2="710.1" y2="83.70" stroke="#000" stroke-width="0.9"/>
<text x="713.80" y="87.40" font-size="10.4" text-anchor="start" font-family="Liberation Sans, sans-serif" stroke="#000" stroke-width="0.2" >2.5</text>
<line x1="706.6" y1="57.40" x2="710.1" y2="57.40" stroke="#000" stroke-width="0.9"/>
<text x="713.80" y="61.10" font-size="10.4" text-anchor="start" font-family="Liberation Sans, sans-serif" stroke="#000" stroke-width="0.2" >5.0</text>
<line x1="706.6" y1="31.10" x2="710.1" y2="31.10" stroke="#000" stroke-width="0.9"/>
<text x="713.80" y="34.80" font-size="10.4" text-anchor="start" font-family="Liberation Sans, sans-serif" stroke="#000" stroke-width="0.2" >7.5</text>
<line x1="706.6" y1="4.80" x2="710.1" y2="4.80" stroke="#000" stroke-width="0.9"/>
<text x="713.80" y="8.50" font-size="10.4" text-anchor="start" font-family="Liberation Sans, sans-serif" stroke="#000" stroke-width="0.2" >10.0</text>
<g transform="translate(148.3,246.4)">
<text x="0" y="0" font-size="14.6" font-family="Liberation Sans, sans-serif" stroke="#000" stroke-width="0.2" textLength="9.4" lengthAdjust="spacingAndGlyphs">Δ</text>
<text x="10.0" y="0" font-size="14.6" font-family="Liberation Sans, sans-serif" stroke="#000" stroke-width="0.2" font-style="italic" textLength="4.6" lengthAdjust="spacingAndGlyphs">t</text>
<text x="16.1" y="2.3" font-size="10.2" font-family="Liberation Sans, sans-serif" stroke="#000" stroke-width="0.2" textLength="19.6" lengthAdjust="spacingAndGlyphs">true</text>
</g>
<g transform="translate(531.8,246.4)">
<text x="0" y="0" font-size="14.6" font-family="Liberation Sans, sans-serif" stroke="#000" stroke-width="0.2" textLength="9.4" lengthAdjust="spacingAndGlyphs">Δ</text>
<text x="10.0" y="0" font-size="14.6" font-family="Liberation Sans, sans-serif" stroke="#000" stroke-width="0.2" font-style="italic" textLength="4.6" lengthAdjust="spacingAndGlyphs">t</text>
<text x="16.1" y="2.3" font-size="10.2" font-family="Liberation Sans, sans-serif" stroke="#000" stroke-width="0.2" textLength="19.6" lengthAdjust="spacingAndGlyphs">true</text>
</g>
<g transform="translate(10.9,122.6) rotate(-90)">
<text x="0" y="0" font-size="14.6" font-family="Liberation Sans, sans-serif" stroke="#000" stroke-width="0.2" textLength="9.4" lengthAdjust="spacingAndGlyphs">Δ</text>
<text x="10.0" y="0" font-size="14.6" font-family="Liberation Sans, sans-serif" stroke="#000" stroke-width="0.2" font-style="italic" textLength="4.6" lengthAdjust="spacingAndGlyphs">t</text>
<text x="16.1" y="2.3" font-size="10.2" font-family="Liberation Sans, sans-serif" stroke="#000" stroke-width="0.2" textLength="10.0" lengthAdjust="spacingAndGlyphs">fit</text>
</g>
<g transform="translate(366.7,137.5) rotate(-90)">
<text x="0" y="0" font-size="14.6" font-family="Liberation Sans, sans-serif" stroke="#000" stroke-width="0.2" font-style="italic" textLength="8.9" lengthAdjust="spacingAndGlyphs">μ</text>
<text x="9.2" y="2.3" font-size="10.2" font-family="Liberation Sans, sans-serif" stroke="#000" stroke-width="0.2" textLength="10.0" lengthAdjust="spacingAndGlyphs">fit</text>
<text x="19.6" y="0" font-size="14.6" font-family="Liberation Sans, sans-serif" stroke="#000" stroke-width="0.2" textLength="4.6" lengthAdjust="spacingAndGlyphs">/</text>
<text x="24.6" y="0" font-size="14.6" font-family="Liberation Sans, sans-serif" stroke="#000" stroke-width="0.2" font-style="italic" textLength="8.9" lengthAdjust="spacingAndGlyphs">μ</text>
<text x="34.0" y="2.3" font-size="10.2" font-family="Liberation Sans, sans-serif" stroke="#000" stroke-width="0.2" textLength="19.6" lengthAdjust="spacingAndGlyphs">true</text>
</g>
<g transform="translate(400.0,137.4) rotate(-90)">
<text x="0" y="0" font-size="14.6" font-family="Liberation Sans, sans-serif" stroke="#000" stroke-width="0.2" font-style="italic" textLength="8.9" lengthAdjust="spacingAndGlyphs">μ</text>
<text x="9.2" y="2.3" font-size="10.2" font-family="Liberation Sans, sans-serif" stroke="#000" stroke-width="0.2" textLength="10.0" lengthAdjust="spacingAndGlyphs">fit</text>
<text x="19.6" y="0" font-size="14.6" font-family="Liberation Sans, sans-serif" stroke="#000" stroke-width="0.2" textLength="4.6" lengthAdjust="spacingAndGlyphs">/</text>
<text x="24.6" y="0" font-size="14.6" font-family="Liberation Sans, sans-serif" stroke="#000" stroke-width="0.2" font-style="italic" textLength="8.9" lengthAdjust="spacingAndGlyphs">μ</text>
<text x="34.0" y="2.3" font-size="10.2" font-family="Liberation Sans, sans-serif" stroke="#000" stroke-width="0.2" textLength="19.6" lengthAdjust="spacingAndGlyphs">true</text>
</g>
<g transform="translate(756.8,150.4) rotate(-90)">
<text x="0" y="0" font-size="14.6" font-family="Liberation Sans, sans-serif" stroke="#000" stroke-width="0.2" textLength="9.4" lengthAdjust="spacingAndGlyphs">Δ</text>
<text x="10.0" y="0" font-size="14.6" font-family="Liberation Sans, sans-serif" stroke="#000" stroke-width="0.2" font-style="italic" textLength="4.6" lengthAdjust="spacingAndGlyphs">t</text>
<text x="16.1" y="2.3" font-size="10.2" font-family="Liberation Sans, sans-serif" stroke="#000" stroke-width="0.2" textLength="10.0" lengthAdjust="spacingAndGlyphs">fit</text>
<text x="29.8" y="0" font-size="14.6" font-family="Liberation Sans, sans-serif" stroke="#000" stroke-width="0.2" textLength="9.8" lengthAdjust="spacingAndGlyphs">−</text>
<text x="44.2" y="0" font-size="14.6" font-family="Liberation Sans, sans-serif" stroke="#000" stroke-width="0.2" textLength="9.4" lengthAdjust="spacingAndGlyphs">Δ</text>
<text x="54.2" y="0" font-size="14.6" font-family="Liberation Sans, sans-serif" stroke="#000" stroke-width="0.2" font-style="italic" textLength="4.6" lengthAdjust="spacingAndGlyphs">t</text>
<text x="60.300000000000004" y="2.3" font-size="10.2" font-family="Liberation Sans, sans-serif" stroke="#000" stroke-width="0.2" textLength="19.6" lengthAdjust="spacingAndGlyphs">true</text>
</g>
</svg></body></html>
